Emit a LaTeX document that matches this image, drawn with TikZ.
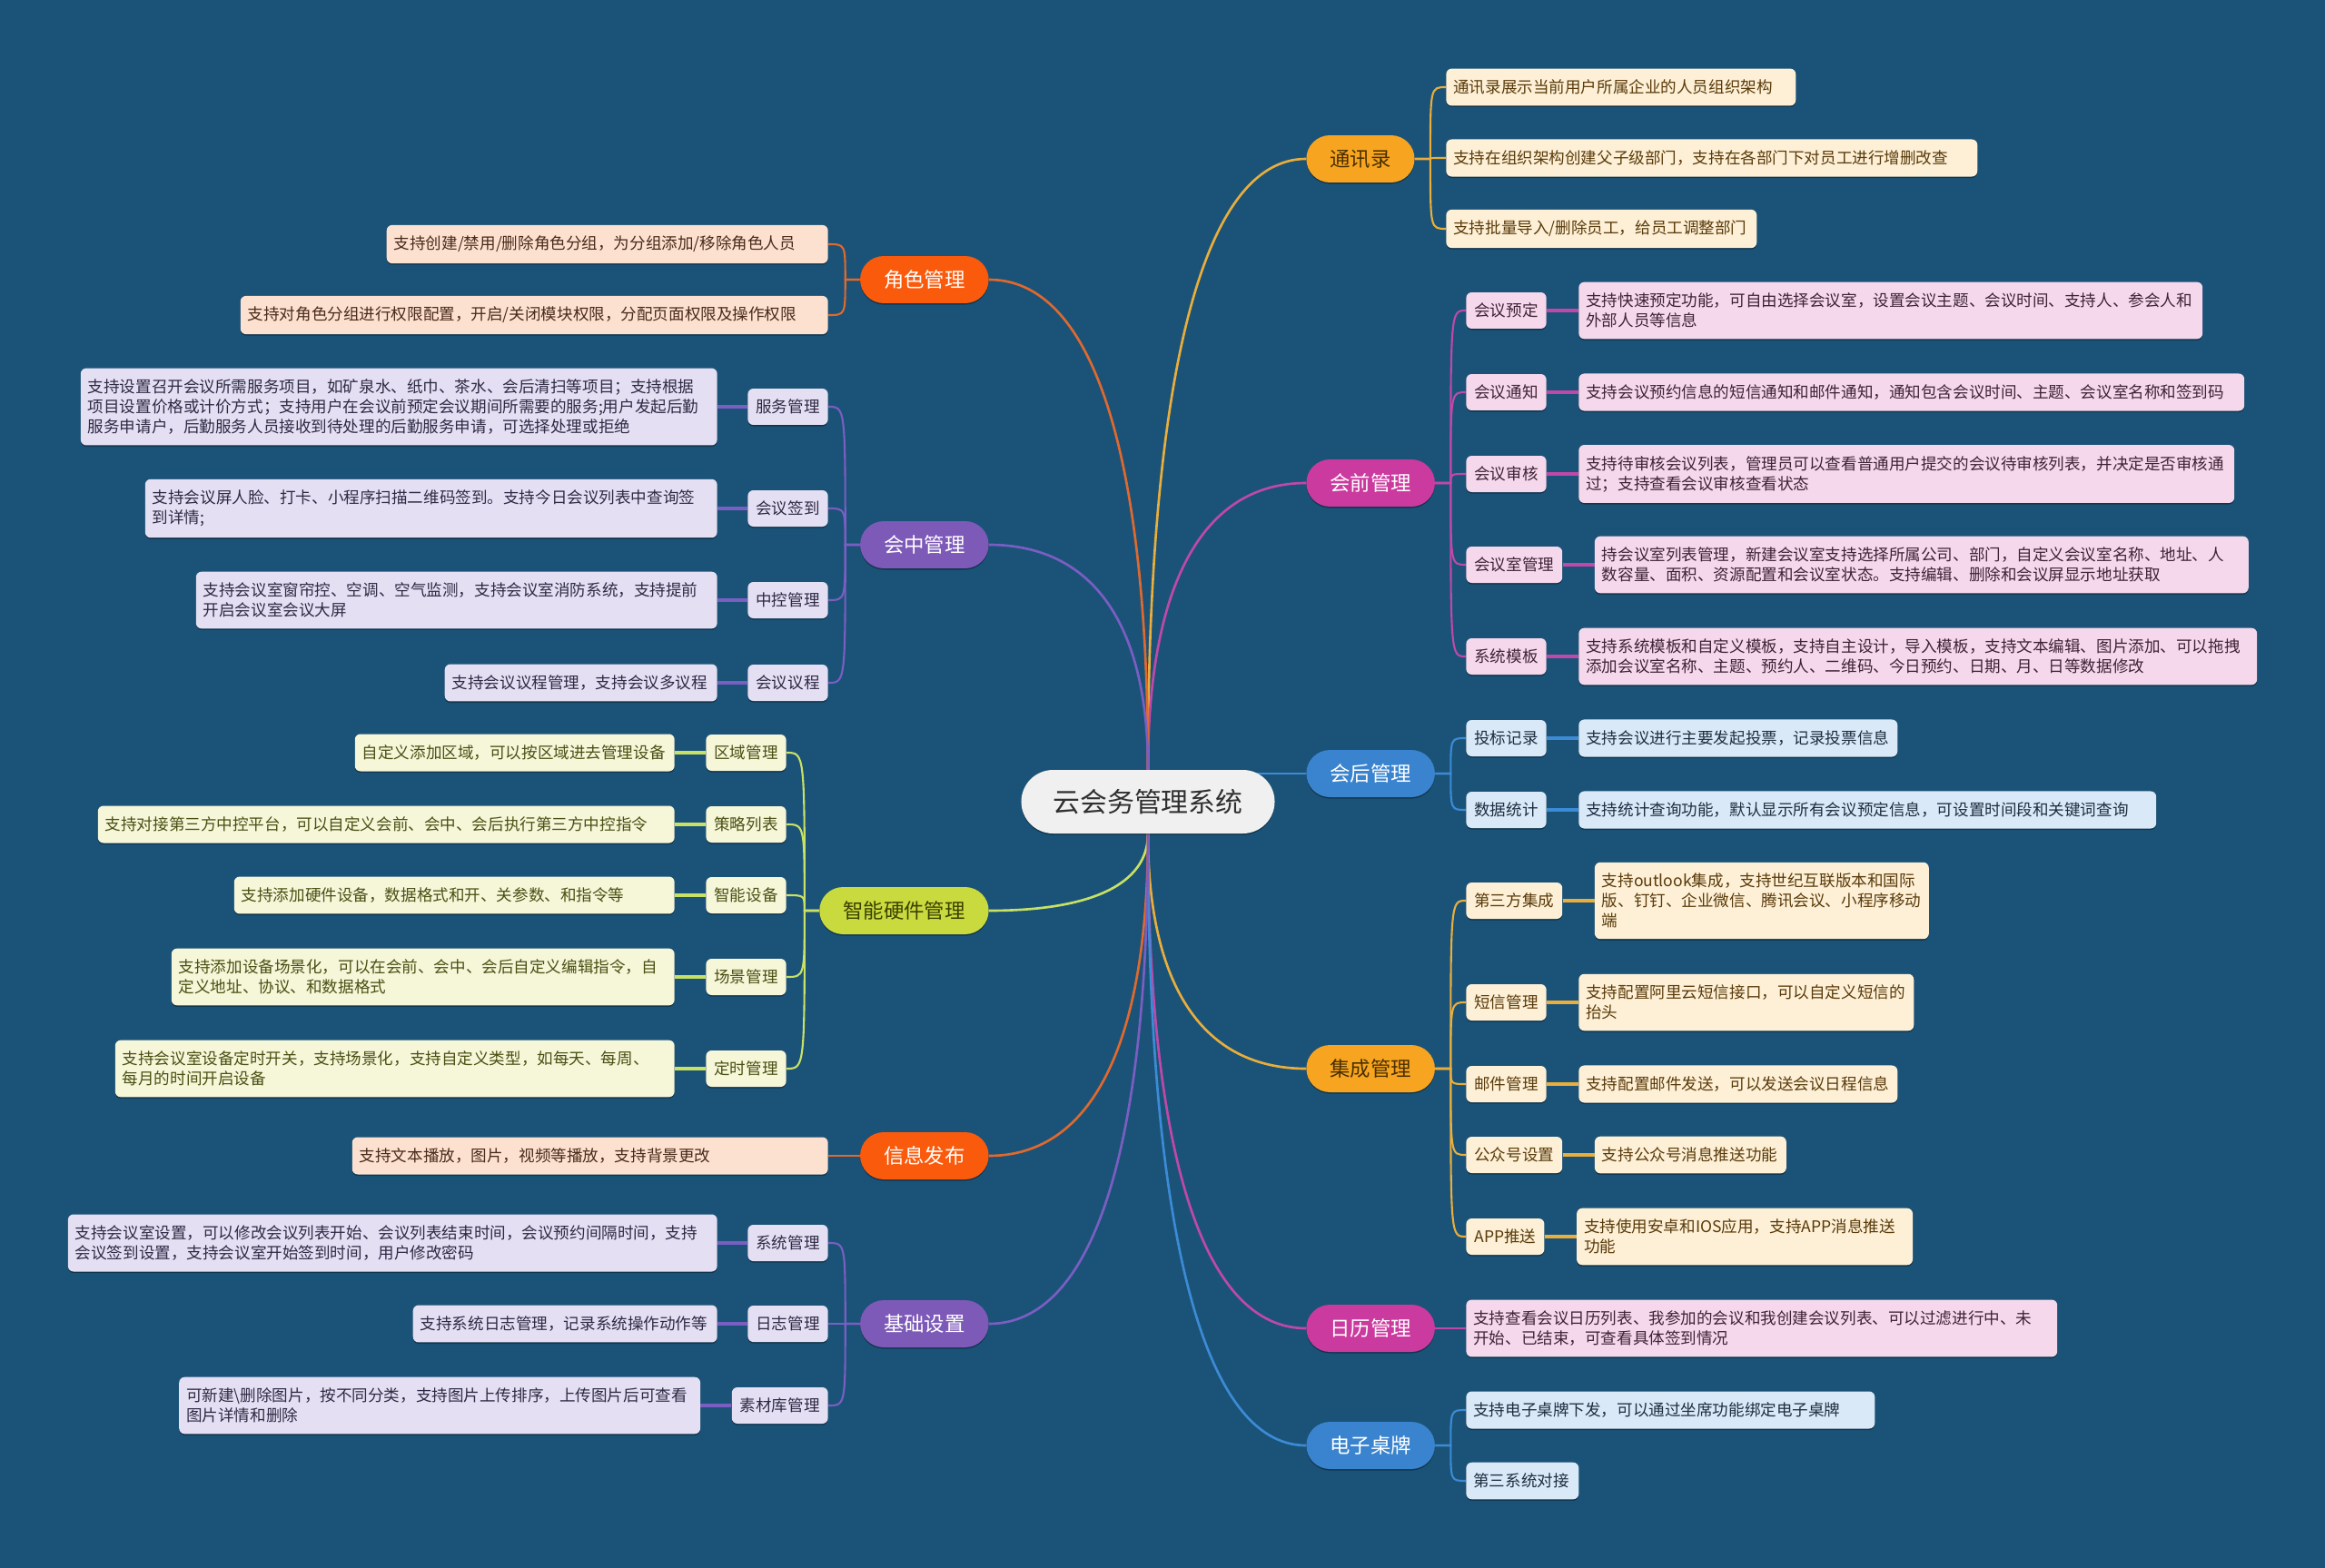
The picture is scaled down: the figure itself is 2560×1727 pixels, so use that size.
\documentclass[tikz,border=0pt]{standalone}
\usepackage{fontspec}
\setmainfont{Noto Sans CJK SC}
\usetikzlibrary{positioning, calc, shadows}
\pgfdeclarelayer{back}
\pgfsetlayers{back,main}

\definecolor{bgblue}{HTML}{1B5378}
\definecolor{rootgray}{HTML}{F0F0F0}
\definecolor{rootink}{HTML}{303030}
% family colours: fill, ink, light fill, dark text, line
\definecolor{flame}{HTML}{FA5A0C}
\definecolor{flameink}{HTML}{FFFFFF}
\definecolor{flamelight}{HTML}{FDE1D0}
\definecolor{flamedark}{HTML}{4A2A18}
\definecolor{flameline}{HTML}{E0692E}
\definecolor{grape}{HTML}{7D59B8}
\definecolor{grapeink}{HTML}{FFFFFF}
\definecolor{grapelight}{HTML}{E4DFF2}
\definecolor{grapedark}{HTML}{2E2A45}
\definecolor{grapeline}{HTML}{7A5EC2}
\definecolor{citron}{HTML}{C9DA3E}
\definecolor{citronink}{HTML}{3A4000}
\definecolor{citronlight}{HTML}{F6F6D9}
\definecolor{citrondark}{HTML}{4A5013}
\definecolor{citronline}{HTML}{C8E165}
\definecolor{amber}{HTML}{F7A521}
\definecolor{amberink}{HTML}{4A2F00}
\definecolor{amberlight}{HTML}{FDF0D6}
\definecolor{amberdark}{HTML}{5A3A0A}
\definecolor{amberline}{HTML}{E9AE3C}
\definecolor{rose}{HTML}{CB3A9E}
\definecolor{roseink}{HTML}{FFFFFF}
\definecolor{roselight}{HTML}{F5D8EC}
\definecolor{rosedark}{HTML}{3E2236}
\definecolor{roseline}{HTML}{C048A9}
\definecolor{sky}{HTML}{3A84CF}
\definecolor{skyink}{HTML}{FFFFFF}
\definecolor{skylight}{HTML}{D9E9F7}
\definecolor{skydark}{HTML}{1E2E42}
\definecolor{skyline}{HTML}{3C8BD6}

\begin{document}
\begin{tikzpicture}[
    x=0.02cm, y=-0.02cm,
    % Node styles
    boxshadow/.style={
        drop shadow={shadow xshift=0pt, shadow yshift=-0.9pt, opacity=0.35, fill=black}
    },
    root node/.style={
        rounded corners=0.7cm,
        fill=rootgray,
        text=rootink,
        minimum height=1.4cm,
        inner xsep=0.7cm,
        inner ysep=0pt,
        font=\fontsize{17}{20}\selectfont,
        boxshadow
    },
    main node/.style={
        rounded corners=0.52cm,
        fill=#1,
        text=#1ink,
        minimum height=1.04cm,
        inner xsep=0.52cm,
        inner ysep=0pt,
        font=\fontsize{12.75}{15}\selectfont,
        boxshadow
    },
    sub node/.style={
        rounded corners=3.5pt,
        fill=#1light,
        text=#1dark,
        minimum height=0.8cm,
        inner xsep=0.18cm,
        inner ysep=0pt,
        font=\fontsize{10}{12.5}\selectfont,
        boxshadow
    },
    leaf node/.style={
        rounded corners=3.5pt,
        fill=#1light,
        text=#1dark,
        minimum height=0.8cm,
        inner xsep=0.16cm,
        inner ysep=6.9pt,
        align=left,
        font=\fontsize{10}{12.5}\selectfont,
        boxshadow
    },
    % Connector styles
    trunk/.style={
        draw=#1line,
        line width=1.5pt,
        to path={.. controls ($(\tikztostart)!0.65!(\tikztostart |- \tikztotarget)$)
                 and ($(\tikztotarget)!0.65!(\tikztostart |- \tikztotarget)$) .. (\tikztotarget)}
    },
    twig/.style={
        draw=#1line,
        line width=1.2pt
    },
    link/.style={
        draw=#1line,
        line width=1.9pt
    }
]

\useasboundingbox (0,0) rectangle (2560,1727);

% Centre
\node[root node] (root) at (1264,883) {云会务管理系统};

% Right branches
\node[main node=amber, anchor=west] (txl) at (1438,175) {通讯录};
\node[main node=rose, anchor=west] (hq) at (1438,532) {会前管理};
\node[main node=sky, anchor=west] (hh) at (1438,852) {会后管理};
\node[main node=amber, anchor=west] (jc) at (1438,1177) {集成管理};
\node[main node=rose, anchor=west] (rl) at (1438,1463) {日历管理};
\node[main node=sky, anchor=west] (dz) at (1438,1592) {电子桌牌};

% Left branches
\node[main node=flame, anchor=east] (js) at (1089,308) {角色管理};
\node[main node=grape, anchor=east] (hz) at (1089,600) {会中管理};
\node[main node=citron, anchor=east] (zn) at (1089,1003) {智能硬件管理};
\node[main node=flame, anchor=east] (xx) at (1089,1273) {信息发布};
\node[main node=grape, anchor=east] (jb) at (1089,1458) {基础设置};

% Spine points next to each branch
\foreach \m in {txl,hq,hh,jc,rl,dz} {
    \coordinate (\m-s) at ([xshift=0.34cm]\m.east);
}
\foreach \m in {js,hz,zn,xx,jb} {
    \coordinate (\m-s) at ([xshift=-0.32cm]\m.west);
}

% Sub topics, right
\foreach \n/\y/\t in {hq1/342/会议预定, hq2/432/会议通知, hq3/522/会议审核, hq4/622/会议室管理, hq5/723/系统模板} {
    \node[sub node=rose, anchor=west] (\n) at (1614,\y) {\t};
}
\foreach \n/\y/\t in {hh1/813/投标记录, hh2/892/数据统计} {
    \node[sub node=sky, anchor=west] (\n) at (1614,\y) {\t};
}
\foreach \n/\y/\t in {jc1/992/第三方集成, jc2/1104/短信管理, jc3/1194/邮件管理, jc4/1272/公众号设置, jc5/1362/APP推送} {
    \node[sub node=amber, anchor=west] (\n) at (1614,\y) {\t};
}

% Sub topics, left
\foreach \n/\y/\t in {hz1/448/服务管理, hz2/560/会议签到, hz3/661/中控管理, hz4/752/会议议程} {
    \node[sub node=grape, anchor=east] (\n) at (912,\y) {\t};
}
\foreach \n/\y/\t in {zn1/829/区域管理, zn2/908/策略列表, zn3/986/智能设备, zn4/1076/场景管理, zn5/1177/定时管理} {
    \node[sub node=citron, anchor=east] (\n) at (866,\y) {\t};
}
\foreach \n/\y/\t in {jb1/1369/系统管理, jb2/1458/日志管理, jb3/1548/素材库管理} {
    \node[sub node=grape, anchor=east] (\n) at (912,\y) {\t};
}

% Details, right
\node[leaf node=amber, anchor=west, text width=7.38cm] (tx1) at (1592,96) {通讯录展示当前用户所属企业的人员组织架构};
\node[leaf node=amber, anchor=west, text width=11.38cm] (tx2) at (1592,174) {支持在组织架构创建父子级部门，支持在各部门下对员工进行增删改查};
\node[leaf node=amber, anchor=west, text width=6.52cm] (tx3) at (1592,252) {支持批量导入/删除员工，给员工调整部门};

\node[leaf node=rose, right=0.7cm of hq1, text width=13.42cm] (hq1-d) {支持快速预定功能，可自由选择会议室，设置会议主题、会议时间、支持人、参会人和\\外部人员等信息};
\node[leaf node=rose, right=0.7cm of hq2, text width=14.34cm] (hq2-d) {支持会议预约信息的短信通知和邮件通知，通知包含会议时间、主题、会议室名称和签到码};
\node[leaf node=rose, right=0.7cm of hq3, text width=14.12cm] (hq3-d) {支持待审核会议列表，管理员可以查看普通用户提交的会议待审核列表，并决定是否审核通\\过；支持查看会议审核查看状态};
\node[leaf node=rose, right=0.7cm of hq4, text width=14.08cm] (hq4-d) {持会议室列表管理，新建会议室支持选择所属公司、部门，自定义会议室名称、地址、人\\数容量、面积、资源配置和会议室状态。支持编辑、删除和会议屏显示地址获取};
\node[leaf node=rose, right=0.7cm of hq5, text width=14.62cm] (hq5-d) {支持系统模板和自定义模板，支持自主设计，导入模板，支持文本编辑、图片添加、可以拖拽\\添加会议室名称、主题、预约人、二维码、今日预约、日期、月、日等数据修改};

\node[leaf node=sky, right=0.7cm of hh1, text width=6.70cm] (hh1-d) {支持会议进行主要发起投票，记录投票信息};
\node[leaf node=sky, right=0.7cm of hh2, text width=12.40cm] (hh2-d) {支持统计查询功能，默认显示所有会议预定信息，可设置时间段和关键词查询};

\node[leaf node=amber, right=0.7cm of jc1, text width=7.04cm] (jc1-d) {支持outlook集成，支持世纪互联版本和国际\\版、钉钉、企业微信、腾讯会议、小程序移动\\端};
\node[leaf node=amber, right=0.7cm of jc2, text width=7.06cm] (jc2-d) {支持配置阿里云短信接口，可以自定义短信的\\抬头};
\node[leaf node=amber, right=0.7cm of jc3, text width=6.70cm] (jc3-d) {支持配置邮件发送，可以发送会议日程信息};
\node[leaf node=amber, right=0.7cm of jc4, text width=3.90cm] (jc4-d) {支持公众号消息推送功能};
\node[leaf node=amber, right=0.7cm of jc5, text width=7.08cm] (jc5-d) {支持使用安卓和IOS应用，支持APP消息推送\\功能};

\node[leaf node=rose, anchor=west, text width=12.70cm] (rl1) at (1614,1463) {支持查看会议日历列表、我参加的会议和我创建会议列表、可以过滤进行中、未\\开始、已结束，可查看具体签到情况};

\node[leaf node=sky, anchor=west, text width=8.68cm] (dz1) at (1614,1553) {支持电子桌牌下发，可以通过坐席功能绑定电子桌牌};
\node[leaf node=sky, anchor=west, text width=2.16cm] (dz2) at (1614,1631) {第三系统对接};

% Details, left
\node[leaf node=flame, anchor=east, text width=9.40cm] (js1) at (912,269) {支持创建/禁用/删除角色分组，为分组添加/移除角色人员};
\node[leaf node=flame, anchor=east, text width=12.62cm] (js2) at (912,347) {支持对角色分组进行权限配置，开启/关闭模块权限，分配页面权限及操作权限};

\node[leaf node=grape, left=0.66cm of hz1, text width=13.70cm] (hz1-d) {支持设置召开会议所需服务项目，如矿泉水、纸巾、茶水、会后清扫等项目；支持根据\\项目设置价格或计价方式；支持用户在会议前预定会议期间所需要的服务;用户发起后勤\\服务申请户，后勤服务人员接收到待处理的后勤服务申请，可选择处理或拒绝};
\node[leaf node=grape, left=0.66cm of hz2, text width=12.28cm] (hz2-d) {支持会议屏人脸、打卡、小程序扫描二维码签到。支持今日会议列表中查询签\\到详情;};
\node[leaf node=grape, left=0.66cm of hz3, text width=11.16cm] (hz3-d) {支持会议室窗帘控、空调、空气监测，支持会议室消防系统，支持提前\\开启会议室会议大屏};
\node[leaf node=grape, left=0.66cm of hz4, text width=5.68cm] (hz4-d) {支持会议议程管理，支持会议多议程};

\node[leaf node=citron, left=0.68cm of zn1, text width=6.72cm] (zn1-d) {自定义添加区域，可以按区域进去管理设备};
\node[leaf node=citron, left=0.68cm of zn2, text width=12.38cm] (zn2-d) {支持对接第三方中控平台，可以自定义会前、会中、会后执行第三方中控指令};
\node[leaf node=citron, left=0.68cm of zn3, text width=9.38cm] (zn3-d) {支持添加硬件设备，数据格式和开、关参数、和指令等};
\node[leaf node=citron, left=0.68cm of zn4, text width=10.76cm] (zn4-d) {支持添加设备场景化，可以在会前、会中、会后自定义编辑指令，自\\定义地址、协议、和数据格式};
\node[leaf node=citron, left=0.68cm of zn5, text width=12.00cm] (zn5-d) {支持会议室设备定时开关，支持场景化，支持自定义类型，如每天、每周、\\每月的时间开启设备};

\node[leaf node=flame, anchor=east, text width=10.16cm] (xx1) at (912,1273) {支持文本播放，图片，视频等播放，支持背景更改};

\node[leaf node=grape, left=0.66cm of jb1, text width=13.98cm] (jb1-d) {支持会议室设置，可以修改会议列表开始、会议列表结束时间，会议预约间隔时间，支持\\会议签到设置，支持会议室开始签到时间，用户修改密码};
\node[leaf node=grape, left=0.66cm of jb2, text width=6.38cm] (jb2-d) {支持系统日志管理，记录系统操作动作等};
\node[leaf node=grape, left=0.68cm of jb3, text width=11.16cm] (jb3-d) {可新建\textbackslash 删除图片，按不同分类，支持图片上传排序，上传图片后可查看\\图片详情和删除};

\begin{pgfonlayer}{back}
% Background
\fill[bgblue] (0,0) rectangle (2560,1727);

% Connections: centre -> branches
\foreach \b/\c in {txl/amber, hq/rose} {
    \draw[trunk=\c] (root.north) to (\b.west);
}
\foreach \b/\c in {jc/amber, rl/rose, dz/sky} {
    \draw[trunk=\c] (root.south) to (\b.west);
}
\foreach \b/\c in {js/flame, hz/grape} {
    \draw[trunk=\c] (root.north) to (\b.east);
}
\foreach \b/\c in {zn/citron, xx/flame, jb/grape} {
    \draw[trunk=\c] (root.south) to (\b.east);
}
\draw[trunk=sky] (root.center |- hh.west) -- (hh.west);

% Connections: branches -> sub topics
\foreach \m/\kids/\c in {txl/{tx1,tx2,tx3}/amber, hq/{hq1,hq2,hq3,hq4,hq5}/rose, hh/{hh1,hh2}/sky,
                         jc/{jc1,jc2,jc3,jc4,jc5}/amber, rl/{rl1}/rose, dz/{dz1,dz2}/sky} {
    \foreach \k in \kids {
        \draw[twig=\c] (\m.east) -- (\m-s) .. controls (\m-s |- \k.west) .. (\k.west);
    }
}
\foreach \m/\kids/\c in {js/{js1,js2}/flame, hz/{hz1,hz2,hz3,hz4}/grape, zn/{zn1,zn2,zn3,zn4,zn5}/citron,
                         xx/{xx1}/flame, jb/{jb1,jb2,jb3}/grape} {
    \foreach \k in \kids {
        \draw[twig=\c] (\m.west) -- (\m-s) .. controls (\m-s |- \k.east) .. (\k.east);
    }
}

% Connections: sub topics -> details
\foreach \k/\c in {hq1/rose, hq2/rose, hq3/rose, hq4/rose, hq5/rose, hh1/sky, hh2/sky,
                   jc1/amber, jc2/amber, jc3/amber, jc4/amber, jc5/amber} {
    \draw[link=\c] (\k.east) -- (\k-d.west);
}
\foreach \k/\c in {hz1/grape, hz2/grape, hz3/grape, hz4/grape, zn1/citron, zn2/citron, zn3/citron,
                   zn4/citron, zn5/citron, jb1/grape, jb2/grape, jb3/grape} {
    \draw[link=\c] (\k.west) -- (\k-d.east);
}
\end{pgfonlayer}

\end{tikzpicture}
\end{document}
